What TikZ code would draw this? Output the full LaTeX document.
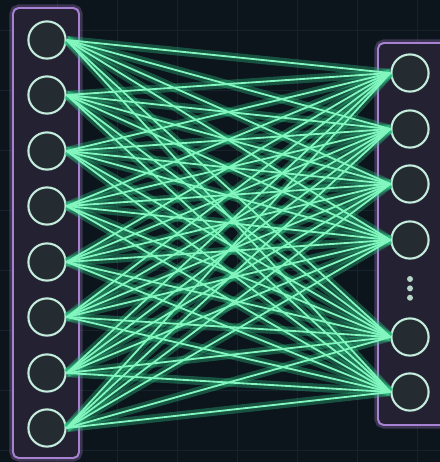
\documentclass[tikz,border=0pt]{standalone}
\usetikzlibrary{positioning}
\definecolor{night}{RGB}{12,20,28}
\definecolor{gridline}{RGB}{22,34,44}
\definecolor{panel}{RGB}{36,34,50}
\definecolor{frame}{RGB}{168,130,210}
\definecolor{ring}{RGB}{196,236,220}
\definecolor{cell}{RGB}{36,44,50}
\definecolor{neon}{RGB}{130,246,190}
\definecolor{haze}{RGB}{46,196,132}
\tikzset{
  layer/.style={draw=frame, fill=panel, line width=1.4pt, rounded corners=4pt},
  layerglow/.style={draw=frame, line width=5pt, opacity=0.3, rounded corners=4pt},
  neuron/.style={circle, draw=ring, fill=cell, line width=1.5pt, minimum size=9.3mm, inner sep=0pt},
  wire/.style={neon, line width=1.3pt},
  wireglow/.style={haze, line width=6pt, opacity=0.35},
  dot/.style={circle, fill=ring!80!gray, minimum size=1.5mm, inner sep=0pt},
}

\begin{document}
\begin{tikzpicture}[x=0.025cm, y=-0.025cm]
  \clip (0,0) rectangle (440,462);
  % backdrop
  \fill[night] (0,0) rectangle (440,462);
  \foreach \gx in {57,117,177,237,297,357,417}
    \draw[gridline, line width=0.4pt] (\gx,0) -- (\gx,462);
  \foreach \gy in {30,90,150,210,270,330,390,450}
    \draw[gridline, line width=0.4pt] (0,\gy) -- (440,\gy);

  % layers
  \draw[layerglow] (13,8) rectangle (79,458);
  \draw[layer] (13,8) rectangle (79,458);
  \draw[layerglow] (378,43) rectangle (452,425);
  \draw[layer] (378,43) rectangle (452,425);

  % input neurons
  \foreach \i/\y in {1/40,2/95,3/151,4/206,5/262,6/317,7/373,8/428}
    \node[neuron] (in\i) at (47,\y) {};
  % output neurons
  \foreach \j/\y in {1/73,2/129,3/184,4/240,5/337,6/392}
    \node[neuron] (out\j) at (410,\y) {};
  \node[dot] (d1) at (410,279) {};
  \node[dot, below=0.7mm of d1] (d2) {};
  \node[dot, below=0.7mm of d2] (d3) {};

  % fully connected weights
  \foreach \i in {1,...,8}
    \foreach \j in {1,...,6}
      \draw[wireglow] (in\i.east) -- (out\j.west);
  \foreach \i in {1,...,8}
    \foreach \j in {1,...,6}
      \draw[wire] (in\i.east) -- (out\j.west);
\end{tikzpicture}
\end{document}
